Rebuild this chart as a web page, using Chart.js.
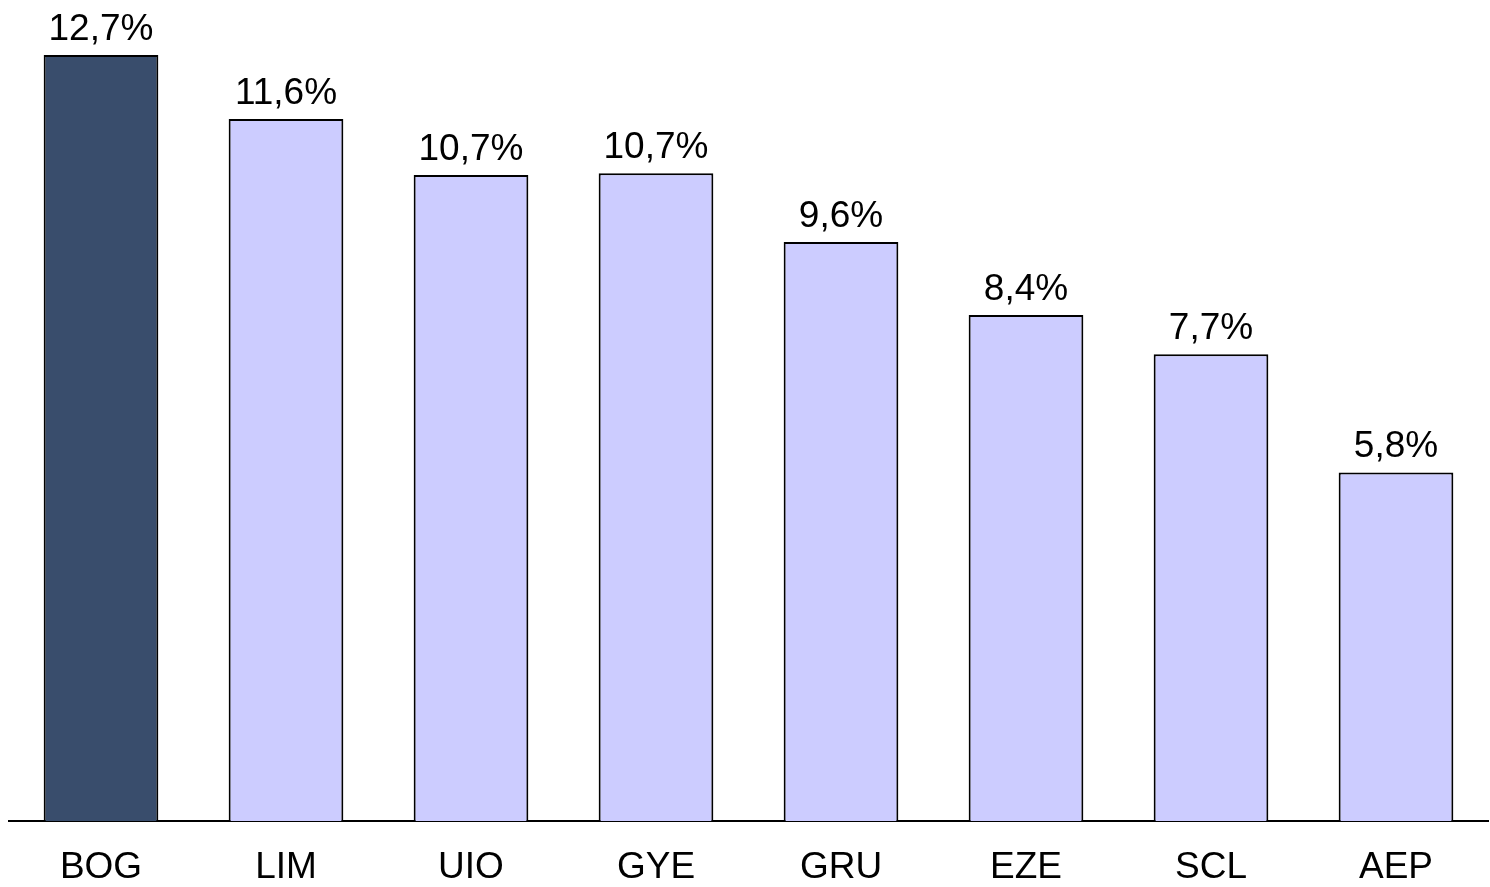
<!DOCTYPE html>
<html>
<head>
<meta charset="utf-8">
<script src="https://cdn.jsdelivr.net/npm/chart.js@4/dist/chart.umd.min.js"></script>
<style>
  html, body { margin: 0; padding: 0; background: #ffffff; }
  #wrap { width: 1490px; height: 887px; }
</style>
</head>
<body>
<div id="wrap"><canvas id="c" width="1490" height="887"></canvas></div>
<script>
const categories = ["BOG", "LIM", "UIO", "GYE", "GRU", "EZE", "SCL", "AEP"];
const shareValues = [12.7, 11.64, 10.71, 10.74, 9.6, 8.39, 7.74, 5.78];
const barColors = ["#394D6C", "#CCCCFF", "#CCCCFF", "#CCCCFF", "#CCCCFF", "#CCCCFF", "#CCCCFF", "#CCCCFF"];

const fontFamily = "'Liberation Sans', Arial, sans-serif";

const valueLabelPlugin = {
  id: 'valueLabels',
  afterDatasetsDraw(chart) {
    const ctx = chart.ctx;
    const meta = chart.getDatasetMeta(0);
    ctx.save();
    ctx.font = "37px " + fontFamily;
    ctx.fillStyle = "#000000";
    ctx.textAlign = "center";
    ctx.textBaseline = "alphabetic";
    meta.data.forEach((bar, i) => {
      const v = chart.data.datasets[0].data[i];
      const txt = v.toFixed(1).replace('.', ',') + '%';
      ctx.fillText(txt, bar.x, bar.y - 15);
    });
    ctx.restore();
  }
};

new Chart(document.getElementById('c'), {
  type: 'bar',
  data: {
    labels: categories,
    datasets: [{
      data: shareValues,
      backgroundColor: barColors,
      borderColor: "#000000",
      borderWidth: 2,
      borderSkipped: 'bottom',
      barPercentage: 0.62,
      categoryPercentage: 1.0
    }]
  },
  options: {
    responsive: false,
    animation: false,
    devicePixelRatio: 1,
    layout: { padding: { top: 55, left: 8.5, right: 1.5, bottom: 0 } },
    plugins: {
      legend: { display: false },
      tooltip: { enabled: false }
    },
    scales: {
      x: {
        grid: { display: false, drawTicks: false },
        border: { display: true, color: "#000000", width: 2 },
        ticks: {
          color: "#000000",
          font: { family: fontFamily, size: 37 },
          padding: 25,
          maxRotation: 0
        },
        afterFit(scale) { scale.height = 66; }
      },
      y: {
        display: false,
        min: 0,
        max: 12.7
      }
    }
  },
  plugins: [valueLabelPlugin]
});
</script>
</body>
</html>
